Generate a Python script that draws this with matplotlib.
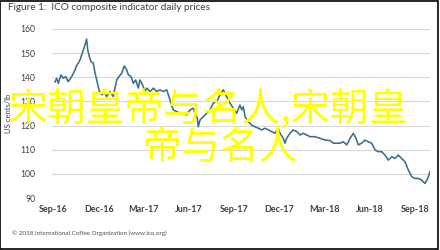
import matplotlib
matplotlib.use('Agg')
import matplotlib.pyplot as plt
from matplotlib.patches import Rectangle

# months after 1 Sep 2016, and ICO composite price (US cents/lb)
months = [0.10, 0.21, 0.32, 0.50, 0.65, 0.81, 0.98, 1.21, 1.43, 1.54, 1.65, 1.76,
          1.87, 1.98, 2.09, 2.20, 2.27, 2.38, 2.49, 2.64, 2.76, 2.87, 2.97, 3.09,
          3.24, 3.37, 3.53, 3.75, 3.97, 4.08, 4.20, 4.35, 4.53, 4.70, 4.86, 4.97,
          5.15, 5.30, 5.46, 5.63, 5.74, 5.86, 5.96, 6.08, 6.19, 6.41, 6.63, 6.85,
          7.07, 7.29, 7.52, 7.74, 7.95, 8.18, 8.40, 8.62, 8.84, 9.06, 9.28, 9.55,
          9.61, 9.73, 9.95, 10.17, 10.39, 10.61, 10.84, 11.06, 11.27, 11.50, 11.72,
          11.94, 12.16, 12.38, 12.50, 12.60, 12.72, 12.93, 13.16, 13.38, 13.60,
          13.82, 14.04, 14.26, 14.49, 14.71, 14.93, 15.04, 15.26, 15.37, 15.48,
          15.70, 15.92, 16.15, 16.37, 16.59, 16.81, 17.03, 17.36, 17.70, 18.03,
          18.36, 18.58, 18.81, 19.02, 19.24, 19.47, 19.69, 19.91, 20.09, 20.24,
          20.46, 20.68, 20.90, 21.13, 21.35, 21.57, 21.79, 22.01, 22.23, 22.46,
          22.68, 22.89, 23.12, 23.34, 23.56, 23.79, 24.00, 24.22, 24.45, 24.67,
          24.85, 25.00]
prices = [138.1, 139.6, 137.5, 141.0, 139.6, 140.3, 138.2, 140.3, 143.0, 145.0, 145.9, 147.2,
          149.3, 151.4, 153.4, 155.8, 151.4, 148.6, 146.5, 145.9, 141.7, 138.9, 136.1, 133.4,
          132.7, 134.1, 132.0, 134.1, 132.0, 135.5, 138.9, 140.3, 141.7, 144.7, 143.0, 141.0,
          140.3, 137.5, 138.9, 135.5, 138.9, 137.5, 136.1, 134.1, 135.5, 134.1, 135.5, 134.1,
          134.8, 134.1, 134.8, 130.6, 126.5, 125.8, 125.1, 125.1, 124.4, 126.5, 127.2, 123.0,
          119.5, 122.3, 123.7, 125.1, 126.5, 129.3, 129.9, 132.7, 134.8, 132.0, 129.3,
          127.2, 125.1, 128.5, 126.5, 127.8, 123.7, 121.6, 120.2, 119.5, 118.9,
          118.2, 118.9, 118.2, 117.5, 116.8, 118.9, 116.8, 114.7, 112.7, 114.7,
          116.8, 118.2, 117.5, 116.1, 116.8, 116.1, 115.4, 115.4, 114.7, 114.0,
          113.8, 112.7, 112.7, 112.7, 113.3, 112.0, 114.7, 116.8, 114.7, 112.0,
          112.7, 114.0, 113.3, 112.7, 109.9, 109.2, 109.2, 107.8, 105.7, 107.1,
          106.4, 107.8, 106.4, 105.0, 101.6, 98.8, 98.1, 98.1, 97.4, 96.0,
          98.1, 100.9]

tick_pos = [0, 3, 6, 9, 12, 15, 18, 21, 24]
tick_labels = ['Sep-16', 'Dec-16', 'Mar-17', 'Jun-17', 'Sep-17',
               'Dec-17', 'Mar-18', 'Jun-18', 'Sep-18']
y_ticks = [90, 100, 110, 120, 130, 140, 150, 160]

plt.rcParams['font.family'] = ['Lato', 'DejaVu Sans']

fig = plt.figure(figsize=(4.4, 2.5), dpi=100)
fig.patch.set_facecolor('white')
fig.patches.append(Rectangle((0.001, 0.004), 0.994, 0.994, transform=fig.transFigure,
                             fill=False, edgecolor='black', linewidth=1.2))

ax = fig.add_axes([52/440, 1-198/250, 378/440, 169/250])
ax.plot(months, prices, color='#3b6e8c', linewidth=1.15)
ax.set_xlim(-0.1, 25.0)
ax.set_ylim(90, 160)
ax.set_yticks(y_ticks)
ax.set_xticks(tick_pos)
ax.set_xticklabels(tick_labels, fontsize=6.5, color='#404040', fontweight='bold')
ax.tick_params(axis='y', labelsize=6.2, colors='#404040', length=0, pad=12)
ax.tick_params(axis='x', length=0, pad=5)
ax.grid(axis='y', color='#d9d9d9', linewidth=0.8)
ax.set_axisbelow(True)
for s in ax.spines.values():
    s.set_visible(False)
ax.set_ylabel('US cents/lb', fontsize=5.5, color='#404040', labelpad=6)

fig.text(8/440, 1-7/250, 'Figure 1:  ICO composite indicator daily prices',
         fontsize=7.2, color='#404040', va='center', ha='left')
fig.text(12/440, 1-233/250, '\u00a9 2018 International Coffee Organization (www.ico.org)',
         fontsize=4.5, color='#505050', va='center', ha='left')

cjk = ['Noto Sans CJK SC', 'DejaVu Sans']
fig.text(208/440, 1-110/250, '宋朝皇帝与名人,宋朝皇', family=cjk, fontsize=28,
         color='#ffff00', ha='center', va='center')
fig.text(220/440, 1-149/250, '帝与名人', family=cjk, fontsize=28,
         color='#ffff00', ha='center', va='center')

plt.savefig('out.png', dpi=100)
